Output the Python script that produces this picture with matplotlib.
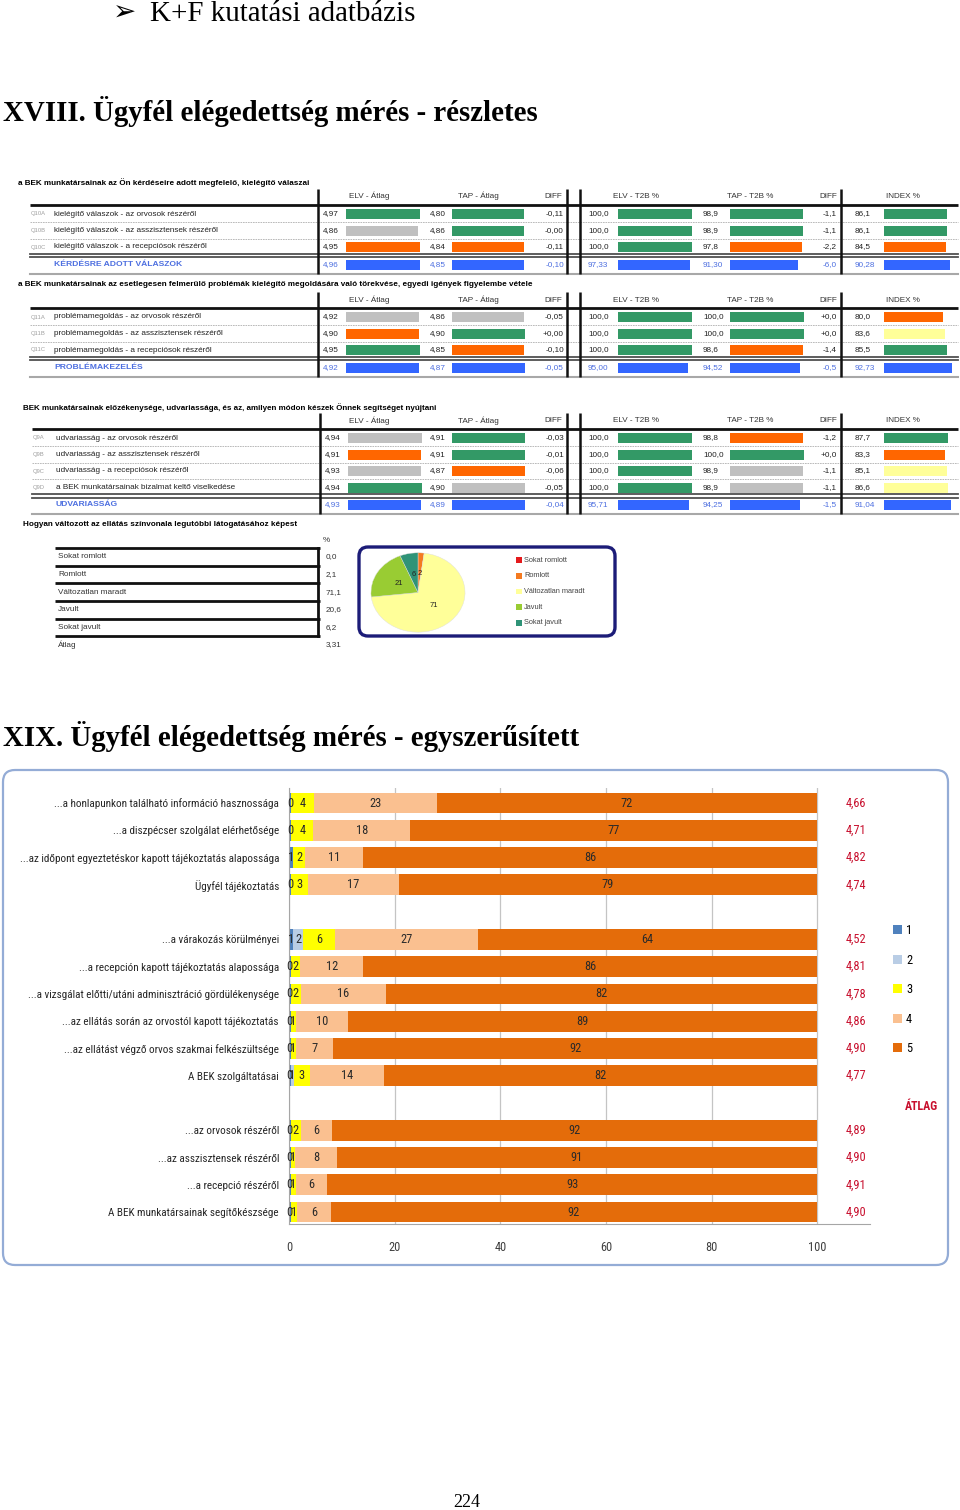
import matplotlib
matplotlib.use("Agg")
import matplotlib.pyplot as plt
from matplotlib import font_manager
from matplotlib.patches import FancyBboxPatch, Rectangle, Patch
import numpy as np

# ====================== DATA ======================
top_line = "K+F kutatási adatbázis"
title_18 = "XVIII. Ügyfél elégedettség mérés - részletes"
title_19 = "XIX. Ügyfél elégedettség mérés - egyszerűsített"
page_no = "224"

col_headers = ["ELV - Átlag", "TAP - Átlag", "DIFF", "ELV - T2B %", "TAP - T2B %", "DIFF", "INDEX %"]

# --- table 1 ---
t1_title = "a BEK munkatársainak az Ön kérdéseire adott megfelelő, kielégítő válaszai"
t1_codes = ["Q10A", "Q10B", "Q10C"]
t1_labels = ["kielégítő válaszok - az orvosok részéről",
             "kielégítő válaszok - az asszisztensek részéről",
             "kielégítő válaszok - a recepciósok részéről"]
t1_total = "KÉRDÉSRE ADOTT VÁLASZOK"
t1_elv_avg = [4.97, 4.86, 4.95, 4.96]
t1_tap_avg = [4.80, 4.86, 4.84, 4.85]
t1_diff_avg = [-0.11, -0.00, -0.11, -0.10]
t1_elv_t2b = [100.0, 100.0, 100.0, 97.33]
t1_tap_t2b = [98.9, 98.9, 97.8, 91.30]
t1_diff_t2b = [-1.1, -1.1, -2.2, -6.0]
t1_index = [86.1, 86.1, 84.5, 90.28]
t1_c_elv_avg = ["G", "S", "O"]
t1_c_tap_avg = ["G", "G", "O"]
t1_c_elv_t2b = ["G", "G", "G"]
t1_c_tap_t2b = ["G", "G", "O"]
t1_c_index = ["G", "G", "O"]

# --- table 2 ---
t2_title = ("a BEK munkatársainak az esetlegesen felmerülő problémák kielégítő megoldására "
            "való törekvése, egyedi igények figyelembe vétele")
t2_codes = ["Q11A", "Q11B", "Q11C"]
t2_labels = ["problémamegoldás - az orvosok részéről",
             "problémamegoldás - az asszisztensek részéről",
             "problémamegoldás - a recepciósok részéről"]
t2_total = "PROBLÉMAKEZELÉS"
t2_elv_avg = [4.92, 4.90, 4.95, 4.92]
t2_tap_avg = [4.86, 4.90, 4.85, 4.87]
t2_diff_avg = [-0.05, 0.00, -0.10, -0.05]
t2_elv_t2b = [100.0, 100.0, 100.0, 95.00]
t2_tap_t2b = [100.0, 100.0, 98.6, 94.52]
t2_diff_t2b = [0.0, 0.0, -1.4, -0.5]
t2_index = [80.0, 83.6, 85.5, 92.73]
t2_c_elv_avg = ["S", "O", "G"]
t2_c_tap_avg = ["S", "G", "O"]
t2_c_elv_t2b = ["G", "G", "G"]
t2_c_tap_t2b = ["G", "G", "O"]
t2_c_index = ["O", "Y", "G"]

# --- table 3 ---
t3_title = ("BEK munkatársainak előzékenysége, udvariassága, és az, amilyen módon "
            "készek Önnek segítséget nyújtani")
t3_codes = ["Q9A", "Q9B", "Q9C", "Q9D"]
t3_labels = ["udvariasság - az orvosok részéről",
             "udvariasság - az asszisztensek részéről",
             "udvariasság - a recepciósok részéről",
             "a BEK munkatársainak bizalmat keltő viselkedése"]
t3_total = "UDVARIASSÁG"
t3_elv_avg = [4.94, 4.91, 4.93, 4.94, 4.93]
t3_tap_avg = [4.91, 4.91, 4.87, 4.90, 4.89]
t3_diff_avg = [-0.03, -0.01, -0.06, -0.05, -0.04]
t3_elv_t2b = [100.0, 100.0, 100.0, 100.0, 95.71]
t3_tap_t2b = [98.8, 100.0, 98.9, 98.9, 94.25]
t3_diff_t2b = [-1.2, 0.0, -1.1, -1.1, -1.5]
t3_index = [87.7, 83.3, 85.1, 86.6, 91.04]
t3_c_elv_avg = ["S", "O", "S", "G"]
t3_c_tap_avg = ["G", "G", "O", "S"]
t3_c_elv_t2b = ["G", "G", "G", "G"]
t3_c_tap_t2b = ["O", "G", "S", "S"]
t3_c_index = ["G", "O", "Y", "Y"]

# --- pie ---
pie_title = "Hogyan változott az ellátás színvonala legutóbbi látogatásához képest"
pie_cats = ["Sokat romlott", "Romlott", "Változatlan maradt", "Javult", "Sokat javult"]
pie_vals = [0.0, 2.1, 71.1, 20.6, 6.2]
pie_avg_label = "Átlag"
pie_avg = 3.31

# --- stacked bar chart ---
bar_cats = [
    "...a honlapunkon található információ hasznossága",
    "...a diszpécser szolgálat elérhetősége",
    "...az időpont egyeztetéskor kapott tájékoztatás alapossága",
    "Ügyfél tájékoztatás",
    "",
    "...a várakozás körülményei",
    "...a recepción kapott tájékoztatás alapossága",
    "...a vizsgálat előtti/utáni adminisztráció gördülékenysége",
    "...az ellátás során az orvostól kapott tájékoztatás",
    "...az ellátást végző orvos szakmai felkészültsége",
    "A BEK szolgáltatásai",
    "",
    "...az orvosok részéről",
    "...az asszisztensek részéről",
    "...a recepció részéről",
    "A BEK munkatársainak segítőkészsége",
]
s1 = [0.4, 0.4, 0.8, 0.4, 0, 0.8, 0.3, 0.3, 0.3, 0.3, 0.3, 0, 0.3, 0.3, 0.3, 0.3]
s2 = [0, 0, 0, 0, 0, 1.8, 0, 0, 0, 0, 0.6, 0, 0, 0, 0, 0]
s3 = [4.4, 4.2, 2.3, 3.2, 0, 6.2, 1.8, 2.0, 1.0, 1.0, 3.0, 0, 1.9, 0.9, 1.0, 1.2]
s4 = [23.2, 18.4, 11.0, 17.2, 0, 27.0, 12.0, 16.0, 9.9, 7.0, 14.0, 0, 6.0, 7.8, 5.9, 6.4]
s5 = [72.0, 77.0, 85.9, 79.2, 0, 64.2, 85.9, 81.7, 88.8, 91.7, 82.1, 0, 91.8, 91.0, 92.8, 92.1]
atlag = [4.66, 4.71, 4.82, 4.74, None, 4.52, 4.81, 4.78, 4.86, 4.90, 4.77, None,
         4.89, 4.90, 4.91, 4.90]
series_names = ["1", "2", "3", "4", "5"]
x_ticks = [0, 20, 40, 60, 80, 100]
atlag_title = "ÁTLAG"

# ====================== STYLE ======================
TC = {"G": "#339966", "S": "#c0c0c0", "O": "#ff6600", "Y": "#ffff99", "B": "#3366ff"}
SERIES_COLORS = ["#4f81bd", "#b9cde5", "#ffff00", "#fac090", "#e46c0a"]
PIE_COLORS = ["#e41a1c", "#f47a20", "#ffff99", "#99cc33", "#2f9377"]
RED = "#c8102e"
BLUE_TXT = "#4d6fe0"

avail = {f.name for f in font_manager.fontManager.ttflist}


def pick(cands, default):
    for c in cands:
        if c in avail:
            return c
    return default


SERIF = [pick(["Liberation Serif", "DejaVu Serif"], "DejaVu Serif"), "DejaVu Sans"]
SANS = [pick(["Liberation Sans", "Arimo", "DejaVu Sans"], "DejaVu Sans")]
NARROW = [pick(["Liberation Sans Narrow", "Roboto Condensed", "Open Sans Condensed",
                "Noto Sans Condensed", "DejaVu Sans Condensed"], SANS[0])]

W, H = 960, 1510
fig = plt.figure(figsize=(9.6, 15.1), dpi=100)
fig.patch.set_facecolor("white")
page = fig.add_axes([0, 0, 1, 1])
page.set_xlim(0, W)
page.set_ylim(H, 0)
page.axis("off")
renderer = fig.canvas.get_renderer()


def fit(t, width):
    bb = t.get_window_extent(renderer)
    t.set_fontsize(t.get_fontsize() * width / bb.width)
    return t.get_fontsize()


def fmt(v, d, sign=False):
    s = f"{v:+.{d}f}" if sign else f"{v:.{d}f}"
    return s.replace(".", ",")


# ====================== PAGE HEADINGS ======================
page.text(125, 21, "➢", fontsize=20, family=["DejaVu Sans"], ha="center", va="baseline")
t = page.text(150, 21, top_line, fontsize=18, family=SERIF, va="baseline")
fit(t, 265)
t = page.text(3, 121, title_18, fontsize=18, family=SERIF, weight="bold", va="baseline")
fit(t, 533)
t = page.text(3, 746, title_19, fontsize=18, family=SERIF, weight="bold", va="baseline")
fit(t, 575)
page.text(467, 1507, page_no, fontsize=13, family=SERIF, ha="center", va="baseline")

# ====================== TABLES ======================
PX = dict(code=31, label=54, vl1=318, elv_v=323, elv_b=346, tap_v=430, tap_b=452,
          d1_r=564, vl2=567, vl3=580, e2_v=588, e2_b=618, t2_v=703, t2_b=730,
          d2_r=837, vl4=841, ix_v=855, ix_b=884, left=30, right=958)
HDR_X = [369, 478, 553, 636, 750, 828, 903]
AVG_SCALE = 74.5 / 5.0
PCT_SCALE = 0.74
IDX_SCALE = 0.735

probe = page.text(0, -50, t1_labels[0], fontsize=5.3, family=SANS)
FS = fit(probe, 140)
probe.remove()


def draw_table(title, tx, ty, tw, hy, hline, vtop, codes, labels, total,
               elv_avg, tap_avg, diff_avg, elv_t2b, tap_t2b, diff_t2b, index,
               c_elv_avg, c_tap_avg, c_elv_t2b, c_tap_t2b, c_index, dx=0):
    n = len(codes)
    rows = [hline + 9 + 16.5 * i for i in range(n)]
    dbl = rows[-1] + 8.5
    sum_y = dbl + 9
    bottom = sum_y + 9
    ys = rows + [sum_y]
    tt = page.text(tx, ty, title, fontsize=5.3, family=SANS, weight="bold", va="center")
    fit(tt, tw)
    for h, x in zip(col_headers, HDR_X):
        page.text(x, hy, h, ha="center", va="center", fontsize=FS, family=SANS, color="#333333")
    L, R = PX["left"] + dx, PX["right"]
    page.plot([L, R], [hline] * 2, color="#111111", lw=2.0, solid_capstyle="butt")
    for i in range(n - 1):
        page.plot([L, R], [rows[i] + 8.25] * 2, color="#b0b0b0", lw=0.6, ls=(0, (2, 1)))
    page.plot([L, R], [dbl - 1.6] * 2, color="#505050", lw=1.3)
    page.plot([L, R], [dbl + 1.6] * 2, color="#505050", lw=1.3)
    page.plot([L, R], [bottom] * 2, color="#a8a8a8", lw=1.5)
    for k in ("vl1", "vl2", "vl3", "vl4"):
        x = PX[k] + (dx if k == "vl1" else 0)
        page.plot([x, x], [vtop, bottom], color="#111111", lw=1.8, solid_capstyle="butt")
    for i in range(n):
        page.text(PX["code"] + dx, rows[i], codes[i], fontsize=FS * 0.72, family=SANS,
                  color="#a0a0a0", va="center")
        page.text(PX["label"] + dx, rows[i], labels[i], fontsize=FS, family=SANS,
                  color="#222222", va="center")
    page.text(PX["label"] + dx, sum_y, total, fontsize=FS * 1.05, family=SANS,
              color=BLUE_TXT, weight="bold", va="center")

    def txtcolor(i):
        return BLUE_TXT if i == n else "#222222"

    cols = [
        (elv_avg, 2, 2, PX["elv_v"] + dx, "left", PX["elv_b"] + dx, c_elv_avg, AVG_SCALE, False),
        (tap_avg, 2, 2, PX["tap_v"], "left", PX["tap_b"], c_tap_avg, AVG_SCALE, False),
        (diff_avg, 2, 2, PX["d1_r"], "right", None, None, None, True),
        (elv_t2b, 1, 2, PX["e2_v"], "left", PX["e2_b"], c_elv_t2b, PCT_SCALE, False),
        (tap_t2b, 1, 2, PX["t2_v"], "left", PX["t2_b"], c_tap_t2b, PCT_SCALE, False),
        (diff_t2b, 1, 1, PX["d2_r"], "right", None, None, None, True),
        (index, 1, 2, PX["ix_v"], "left", PX["ix_b"], c_index, IDX_SCALE, False),
    ]
    for vals, d, dsum, x, ha, bx, cc, scale, sign in cols:
        for i, v in enumerate(vals):
            page.text(x, ys[i], fmt(v, dsum if i == n else d, sign), fontsize=FS,
                      family=SANS, color=txtcolor(i), ha=ha, va="center")
        if bx is not None:
            colors = [TC[c] for c in cc] + [TC["B"]]
            page.barh(ys, [v * scale for v in vals], left=bx, height=10, color=colors)


draw_table(t1_title, 18, 183, 288, 196, 205, 189, t1_codes, t1_labels, t1_total,
           t1_elv_avg, t1_tap_avg, t1_diff_avg, t1_elv_t2b, t1_tap_t2b, t1_diff_t2b, t1_index,
           t1_c_elv_avg, t1_c_tap_avg, t1_c_elv_t2b, t1_c_tap_t2b, t1_c_index)
draw_table(t2_title, 18, 285, 509, 300, 308, 292, t2_codes, t2_labels, t2_total,
           t2_elv_avg, t2_tap_avg, t2_diff_avg, t2_elv_t2b, t2_tap_t2b, t2_diff_t2b, t2_index,
           t2_c_elv_avg, t2_c_tap_avg, t2_c_elv_t2b, t2_c_tap_t2b, t2_c_index)
draw_table(t3_title, 23, 408, 414, 421, 429, 413, t3_codes, t3_labels, t3_total,
           t3_elv_avg, t3_tap_avg, t3_diff_avg, t3_elv_t2b, t3_tap_t2b, t3_diff_t2b, t3_index,
           t3_c_elv_avg, t3_c_tap_avg, t3_c_elv_t2b, t3_c_tap_t2b, t3_c_index, dx=2)

# ====================== PIE SECTION ======================
tt = page.text(23, 525, pie_title, fontsize=5.3, family=SANS, weight="bold", va="center")
fit(tt, 272)
page.text(323, 540, "%", fontsize=FS, family=SANS, color="#333333", va="center")
prow = [557 + 17.6 * i for i in range(len(pie_cats))]
for y, c, v in zip(prow, pie_cats, pie_vals):
    page.text(58, y, c, fontsize=FS, family=SANS, color="#333333", va="center")
    page.text(326, y, fmt(v, 1), fontsize=FS, family=SANS, color="#333333", va="center")
for y in [prow[0] - 8.8] + [p + 8.8 for p in prow]:
    page.plot([55, 320], [y, y], color="#111111", lw=2.0, solid_capstyle="butt")
page.plot([318, 318], [prow[0] - 8.8, prow[-1] + 8.8], color="#111111", lw=2.0)
page.text(58, prow[-1] + 17.6, pie_avg_label, fontsize=FS, family=SANS, color="#333333", va="center")
page.text(326, prow[-1] + 17.6, fmt(pie_avg, 2), fontsize=FS, family=SANS, color="#333333", va="center")

page.add_patch(FancyBboxPatch((359, 547), 256, 89, boxstyle="round,pad=0,rounding_size=9",
                              ec="#1c1c78", fc="white", lw=2.4, zorder=2))
pax = fig.add_axes([370 / W, 1 - 633 / H, 96 / W, 81 / H])
pax.pie(pie_vals, colors=PIE_COLORS, startangle=90, counterclock=False,
        autopct=lambda p: f"{p:.0f}" if p > 0.5 else "", pctdistance=0.47,
        wedgeprops=dict(edgecolor="#dddddd", linewidth=0.3),
        textprops=dict(fontsize=FS * 0.95, family=SANS, color="#222222"))
pax.set_aspect("auto")
pax.set_xlim(-1.02, 1.02)
pax.set_ylim(-1.02, 1.02)
pax.axis("off")
for i, (c, col) in enumerate(zip(pie_cats, PIE_COLORS)):
    y = 560 + 15.75 * i
    page.add_patch(Rectangle((516, y - 2.8), 5.6, 5.6, fc=col, ec="none", zorder=3))
    page.text(524, y, c, fontsize=FS * 0.92, family=SANS, color="#444444", va="center", zorder=3)

# ====================== STACKED BAR CHART ======================
page.add_patch(FancyBboxPatch((3, 770), 945, 495, boxstyle="round,pad=0,rounding_size=12",
                              ec="#94acd6", fc="none", lw=1.6, zorder=1))
ax = fig.add_axes([289 / W, 1 - 1224.4 / H, 581 / W, 436.4 / H])
ax.set_facecolor("none")
ypos = np.arange(len(bar_cats))
series = [s1, s2, s3, s4, s5]
left = np.zeros(len(bar_cats))

# number font size fitted to the reference width of "4,66"
probe = page.text(0, -50, fmt(atlag[0], 2), fontsize=9.5, family=NARROW)
NFS = fit(probe, 21)
probe.remove()

for vals, col in zip(series, SERIES_COLORS):
    vals = np.array(vals, dtype=float)
    ax.barh(ypos, vals, left=left, height=0.76, color=col, zorder=2)
    for y, v, l0 in zip(ypos, vals, left):
        if v > 0:
            ax.text(l0 + v / 2, y, f"{round(v):d}", ha="center", va="center",
                    fontsize=NFS, family=NARROW, color="#2a2a2a", zorder=3)
    left = left + vals

for y, a in zip(ypos, atlag):
    if a is not None:
        ax.text(107.4, y, fmt(a, 2), ha="center", va="center", fontsize=NFS,
                family=NARROW, color=RED, clip_on=False)

ax.set_xlim(0, 110)
ax.set_ylim(15.45, -0.55)
ax.set_xticks(x_ticks)
ax.set_xticklabels([str(v) for v in x_ticks], family=NARROW, fontsize=NFS, color="#404040")
ax.set_yticks(ypos)
ax.set_yticklabels(bar_cats, family=NARROW, fontsize=9, color="#262626")
longest = max(ax.get_yticklabels(), key=lambda tl: tl.get_window_extent(renderer).width)
CFS = fit(longest, 261)
for tl in ax.get_yticklabels():
    tl.set_fontsize(CFS)
ax.tick_params(axis="y", length=0, pad=7.2)
ax.tick_params(axis="x", length=0, pad=12)
ax.grid(axis="x", color="#c4c4c4", lw=0.9, zorder=0)
ax.set_axisbelow(True)
for sp in ("top", "right"):
    ax.spines[sp].set_visible(False)
ax.spines["left"].set_color("#a6a6a6")
ax.spines["bottom"].set_color("#a6a6a6")

handles = [Patch(facecolor=c, edgecolor="none") for c in SERIES_COLORS]
fig.legend(handles, series_names, loc="upper left", bbox_to_anchor=(893 / W, 1 - 924 / H),
           frameon=False, prop=dict(family=NARROW[0], size=NFS), handlelength=0.75,
           handleheight=0.75, handletextpad=0.3, labelspacing=1.33, borderpad=0,
           borderaxespad=0)
page.text(921, 1106, atlag_title, ha="center", va="center", fontsize=NFS * 0.95,
          family=NARROW, weight="bold", color=RED)

fig.savefig("out.png", dpi=100)
